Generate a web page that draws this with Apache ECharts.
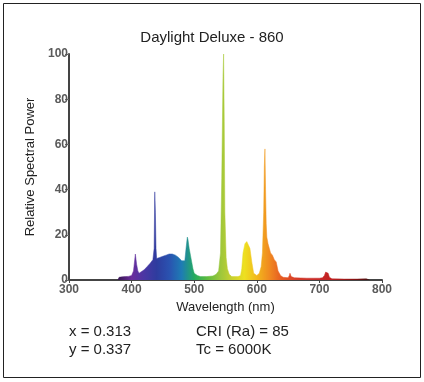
<!DOCTYPE html>
<html><head><meta charset="utf-8">
<script src="https://cdn.jsdelivr.net/npm/echarts@6/dist/echarts.min.js"></script>
<style>html,body{margin:0;padding:0;background:#fff}#c{width:424px;height:382px}</style>
</head><body><div id="c"></div>
<script>
const wavelengths = [378,380,385,390,395,400,403,405,406,407,408,410,412,415,420,425,430,434,436,437,438,439,440,442,445,450,455,460,465,470,475,480,483,485,487,489,490,492,494,496,498,500,505,510,520,530,535,539,542,544,546,547,548,549,551,553,556,560,570,574,576,578,581,584,586,589,592,595,600,604,607,609,611,612,613,614,615,616,618,620,622,625,628,631,634,638,642,650,652,653,655,660,670,680,690,700,705,708,710,712,714,716,720,740,760,775,780];
const power = [0,1.2,1.4,1.5,1.6,2,4,9,11.5,11,7,4,3,3,4.5,6,7.5,9,14,39,30,14,9.5,9.5,10,10.5,11,11.5,11.5,11,10,8.5,8,8.5,14,19,18,14,11,8,5,3,2,1.5,1.5,1.8,2.5,4,12,45,90,100,70,30,10,5,2.5,1.5,1.5,2,5,12,16,17,16.5,14,8,3,2,3,6,12,30,50,58,40,25,19,16,14,12,11,9,8,4,2,1.2,1,2,3,1.5,1,0.9,0.8,0.8,0.8,1,2,3.5,3.8,3,1.2,0.5,0.4,0.4,0.5,0];
const xTicks = [300,400,500,600,700,800];
const yTicks = [0,20,40,60,80,100];
const title = 'Daylight Deluxe - 860';
const notesLeft = ['x = 0.313','y = 0.337'];
const notesRight = ['CRI (Ra) = 85','Tc = 6000K'];

const chart = echarts.init(document.getElementById('c'), null, {renderer:'canvas'});
const seriesData = wavelengths.map((w,i)=>[w,power[i]]);
const txtFont = 'Liberation Sans, Arial, sans-serif';
chart.setOption({
  backgroundColor:'#fff',
  animation:false,
  title:{text:title,left:'center',top:25,textStyle:{fontFamily:txtFont,fontSize:15,fontWeight:'normal',color:'#222'}},
  grid:{left:69,right:42,top:54,bottom:102},
  xAxis:{type:'value',min:xTicks[0],max:xTicks[xTicks.length-1],interval:100,
    name:'Wavelength (nm)',nameLocation:'middle',nameGap:20,
    nameTextStyle:{fontFamily:txtFont,fontSize:13,color:'#222'},
    axisLine:{lineStyle:{color:'#444',width:2}},
    axisTick:{show:true,length:3,lineStyle:{color:'#444'}},
    axisLabel:{fontFamily:txtFont,fontSize:12,fontWeight:'bold',color:'#5a5a5a',margin:4},
    splitLine:{show:false}},
  yAxis:{type:'value',min:yTicks[0],max:yTicks[yTicks.length-1],interval:20,
    name:'Relative Spectral Power',nameLocation:'middle',nameGap:30,
    nameTextStyle:{fontFamily:txtFont,fontSize:13,color:'#222'},
    axisLine:{show:true,lineStyle:{color:'#444',width:2}},
    axisTick:{show:true,length:4,lineStyle:{color:'#666'}},
    axisLabel:{fontFamily:txtFont,fontSize:12,fontWeight:'bold',color:'#5a5a5a',margin:1},
    splitLine:{show:false}},
  visualMap:{show:false,type:'continuous',dimension:0,min:380,max:780,seriesIndex:0,
    inRange:{color:['#3a1858','#6a2c9c','#4a36a4','#2e3c9e','#2a52b0','#1e7cb4','#24aa60','#5cbc40','#98c63c','#c8d030','#eee020','#f2b81c','#f08a20','#e65a22','#d84028','#cc3028','#c82828','#c02020','#a01818','#801010','#401010']}},
  series:[{type:'line',data:seriesData,showSymbol:false,smooth:false,
    lineStyle:{width:0.5},areaStyle:{opacity:1},z:1}],
  graphic:[
    {type:'rect',shape:{x:3.5,y:3.5,width:417,height:374},style:{fill:'none',stroke:'#222',lineWidth:1},silent:true},
    {type:'text',left:69,top:324,style:{text:notesLeft[0],font:'15px '+txtFont,fill:'#222'}},
    {type:'text',left:69,top:342,style:{text:notesLeft[1],font:'15px '+txtFont,fill:'#222'}},
    {type:'text',left:196,top:324,style:{text:notesRight[0],font:'15px '+txtFont,fill:'#222'}},
    {type:'text',left:196,top:342,style:{text:notesRight[1],font:'15px '+txtFont,fill:'#222'}}
  ]
});
</script></body></html>
